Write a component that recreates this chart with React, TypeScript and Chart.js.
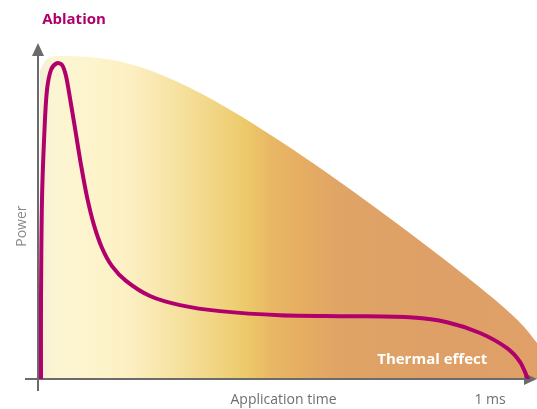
import React, { useEffect, useRef } from "react";
import { Chart, registerables } from "chart.js";

Chart.register(...registerables);

// Ablation curve (x: 0..100 = time fraction, y: 0..100 = power)
const ablationX = [0.6, 0.6, 0.8, 1.3, 1.8, 2.61, 3.81, 4.81, 5.61, 6.41, 7.41, 8.62, 9.82, 11.22, 12.83, 14.83, 17.64, 22.44, 28.46, 36.47, 48.5, 62.53, 75.15, 81.96, 88.58, 93.99, 96.59, 98.2];
const ablationY = [0, 23.5, 53.3, 74.1, 86.0, 92.0, 94.0, 93.5, 90.2, 83.6, 74.7, 63.7, 54.2, 45.8, 39.0, 33.6, 29.2, 24.7, 22.0, 20.2, 19.0, 18.7, 18.3, 16.9, 13.7, 9.2, 5.1, 0];

// Thermal effect envelope
const thermalX = [0.4, 1.6, 4.41, 10.42, 18.44, 28.46, 37.88, 48.5, 58.52, 68.54, 78.56, 88.58, 94.59, 97.6, 100];
const thermalY = [91.96, 94.94, 96.13, 95.83, 93.75, 88.1, 80.65, 70.83, 60.71, 50.0, 38.84, 27.23, 19.64, 15.18, 10.71];

const titleText = "Ablation";
const yAxisTitle = "Power";
const xAxisTitle = "Application time";
const xEndLabel = "1 ms";
const areaLabel = "Thermal effect";

const MAGENTA = "#b0006c";
const AXIS = "#6b6b6b";
const FONT = "'Open Sans', 'Noto Sans', sans-serif";

export default function App() {
  const ref = useRef<HTMLCanvasElement | null>(null);

  useEffect(() => {
    document.body.style.margin = "0";
    const canvas = ref.current;
    if (!canvas) return;

    const shadowPlugin = {
      id: "shadowPlugin",
      beforeDatasetDraw(chart: any, args: any) {
        const ctx = chart.ctx;
        if (args.index === 0) {
          ctx.save();
          ctx.shadowColor = "rgba(0,0,0,0.28)";
          ctx.shadowBlur = 9;
          ctx.shadowOffsetX = 2;
          ctx.shadowOffsetY = 1;
        } else if (args.index === 1) {
          const xs = chart.scales.x;
          const ys = chart.scales.y;
          const x0 = xs.getPixelForValue(0);
          const y0 = ys.getPixelForValue(0);
          const yTop = ys.getPixelForValue(100);
          const xRight = xs.getPixelForValue(100);
          ctx.save();
          ctx.strokeStyle = AXIS;
          ctx.fillStyle = AXIS;
          ctx.lineWidth = 2;
          ctx.beginPath();
          ctx.moveTo(x0, y0 + 12);
          ctx.lineTo(x0, yTop + 12);
          ctx.moveTo(x0 - 13, y0);
          ctx.lineTo(xRight - 12, y0);
          ctx.stroke();
          ctx.beginPath();
          ctx.moveTo(x0, yTop);
          ctx.lineTo(x0 - 6, yTop + 13);
          ctx.lineTo(x0 + 6, yTop + 13);
          ctx.closePath();
          ctx.fill();
          ctx.beginPath();
          ctx.moveTo(xRight, y0);
          ctx.lineTo(xRight - 13, y0 - 6);
          ctx.lineTo(xRight - 13, y0 + 6);
          ctx.closePath();
          ctx.fill();
          ctx.restore();
        }
      },
      afterDatasetDraw(chart: any, args: any) {
        if (args.index === 0) chart.ctx.restore();
      },
      afterDraw(chart: any) {
        const ctx = chart.ctx;
        const xs = chart.scales.x;
        const ys = chart.scales.y;
        const x0 = xs.getPixelForValue(0);
        const y0 = ys.getPixelForValue(0);
        ctx.save();
        ctx.textAlign = "center";
        ctx.textBaseline = "middle";
        ctx.fillStyle = MAGENTA;
        ctx.font = `bold 15px ${FONT}`;
        ctx.fillText(titleText, 74, 20);
        ctx.fillStyle = "#ffffff";
        ctx.font = `bold 15px ${FONT}`;
        ctx.fillText(areaLabel, xs.getPixelForValue(79.0), y0 - 19);
        ctx.fillStyle = "#6e6e6e";
        ctx.font = `14px ${FONT}`;
        ctx.fillText(xAxisTitle, xs.getPixelForValue(49.2), y0 + 21);
        ctx.fillText(xEndLabel, xs.getPixelForValue(90.6), y0 + 21);
        ctx.translate(x0 - 16, ys.getPixelForValue(45.5));
        ctx.rotate(-Math.PI / 2);
        ctx.fillStyle = "#8a8a8a";
        ctx.fillText(yAxisTitle, 0, 0);
        ctx.restore();
      },
    };

    const chart = new Chart(canvas, {
      type: "line",
      data: {
        datasets: [
          {
            label: "Thermal effect",
            data: thermalX.map((x, i) => ({ x, y: thermalY[i] })),
            fill: "origin",
            borderWidth: 0,
            borderColor: "rgba(0,0,0,0)",
            pointRadius: 0,
            cubicInterpolationMode: "monotone",
            order: 2,
            clip: false as any,
            backgroundColor: (c: any) => {
              const chart = c.chart;
              const area = chart.chartArea;
              if (!area) return "#e8b060";
              const xs = chart.scales.x;
              const l = xs.getPixelForValue(0);
              const r = xs.getPixelForValue(100);
              const g = chart.ctx.createLinearGradient(l, 0, r, 0);
              const stop = (px: number, col: string) => g.addColorStop(Math.min(1, Math.max(0, (px - l) / (r - l))), col);
              stop(38, "#f3efd6");
              stop(55, "#fcf5d2");
              stop(95, "#fdf4cc");
              stop(130, "#fcefc2");
              stop(175, "#f6e2a2");
              stop(225, "#f0d27c");
              stop(245, "#ecca6a");
              stop(270, "#e9b866");
              stop(300, "#e6ae62");
              stop(340, "#e0a466");
              stop(420, "#dea066");
              stop(537, "#e0a068");
              return g;
            },
          },
          {
            label: "Ablation",
            data: ablationX.map((x, i) => ({ x, y: ablationY[i] })),
            borderColor: MAGENTA,
            borderWidth: 4,
            pointRadius: 0,
            fill: false,
            tension: 0.3,
            borderCapStyle: "round",
            borderJoinStyle: "round",
            order: 1,
          },
        ],
      },
      options: {
        animation: false,
        responsive: false,
        maintainAspectRatio: false,
        layout: { padding: { left: 38, right: 0, top: 43, bottom: 30 } },
        plugins: { legend: { display: false }, tooltip: { enabled: false } },
        scales: {
          x: { type: "linear", min: 0, max: 100, display: false },
          y: { type: "linear", min: 0, max: 100, display: false },
        },
      },
      plugins: [shadowPlugin],
    });

    return () => chart.destroy();
  }, []);

  return (
    <div style={{ width: 537, height: 409 }}>
      <canvas ref={ref} width={537} height={409} style={{ width: 537, height: 409, display: "block" }} />
    </div>
  );
}
